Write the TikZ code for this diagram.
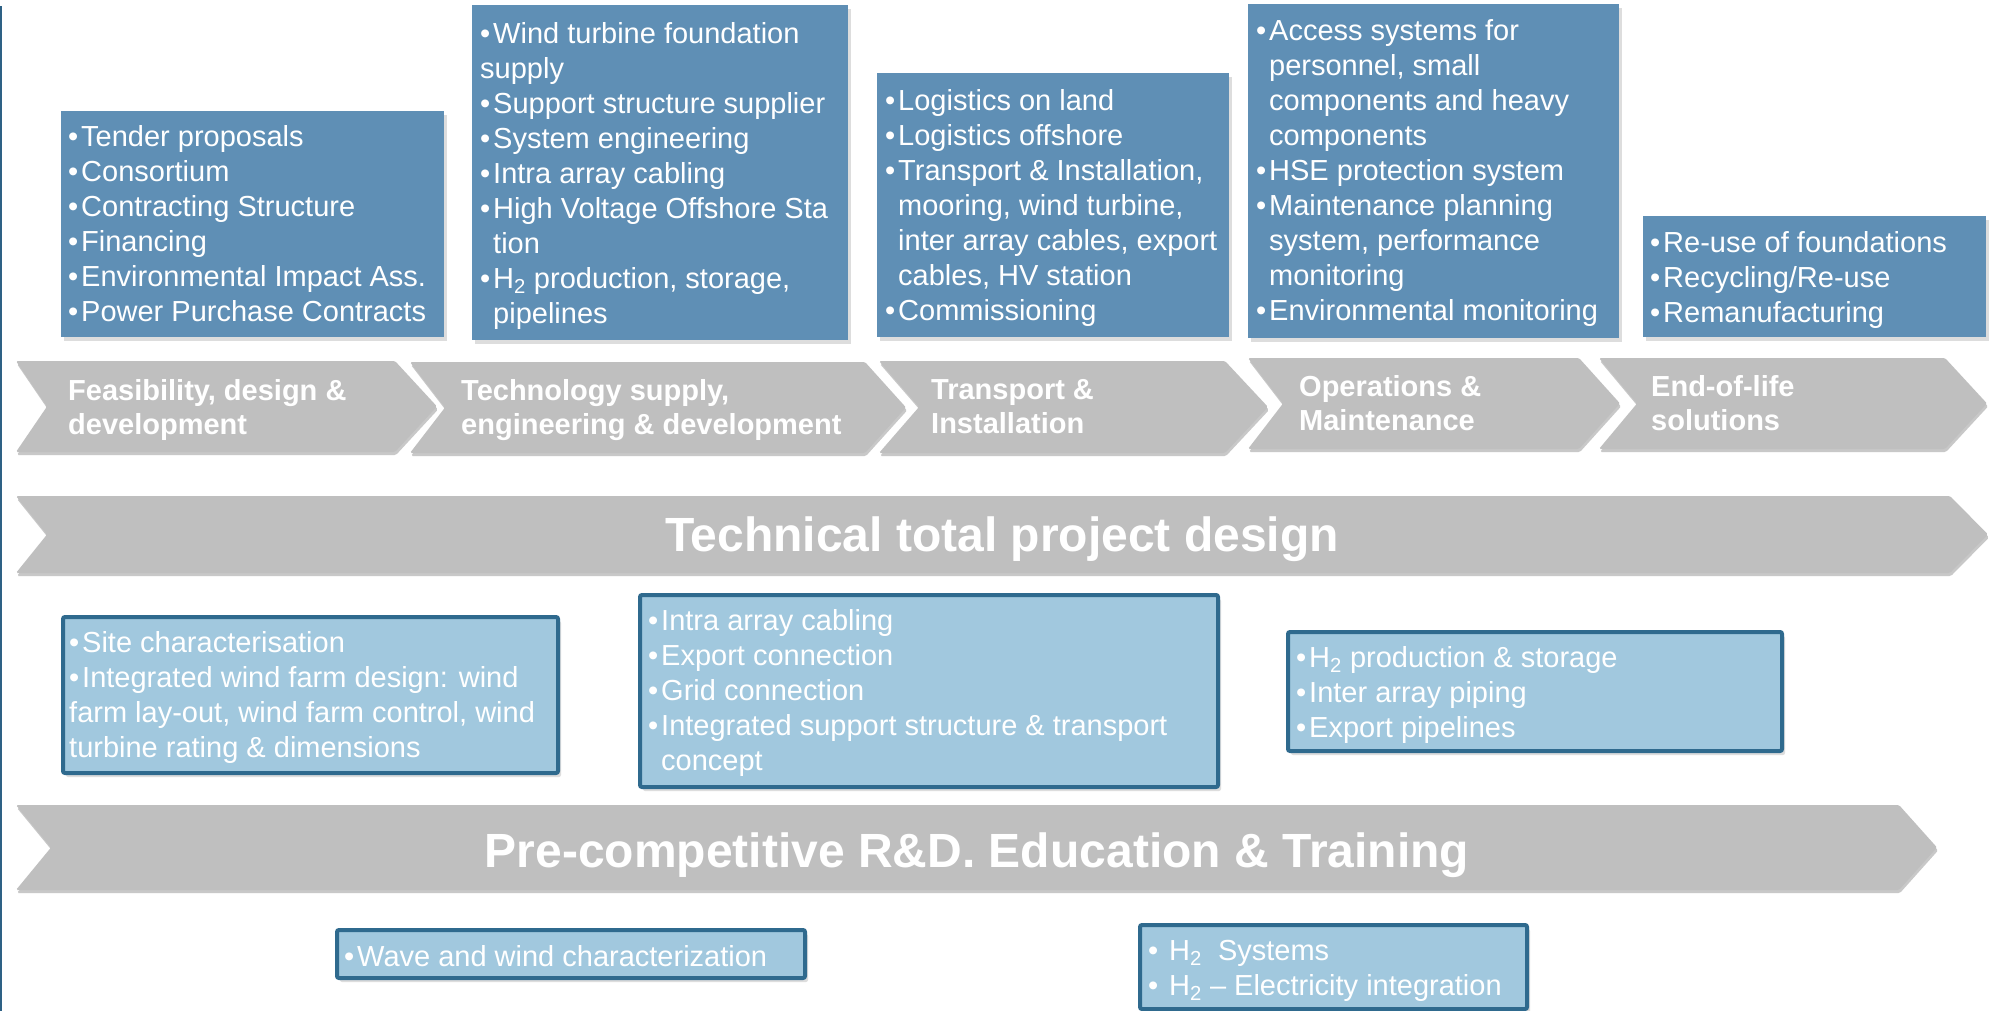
\documentclass[tikz,border=0pt]{standalone}
\usepackage{fontspec}
\setmainfont{Liberation Sans}
\usetikzlibrary{shadows}

\definecolor{topblue}{HTML}{5F8FB5}
\definecolor{lightblue}{HTML}{A1C8DE}
\definecolor{edgeblue}{HTML}{2F6A8E}
\definecolor{arrowgray}{HTML}{BFBFBF}
\definecolor{railblue}{HTML}{2E6185}

% list helpers: bullet line, hanging continuation, flush continuation
\newcommand\bul{\strut\makebox[13pt][l]{•}}
\newcommand\hang{\strut\hspace*{13pt}}
\newcommand\cont{\strut}
\newcommand\Htwo{H\textsubscript{2}}

\tikzset{
  stage/.style={fill=arrowgray, rounded corners=1.5pt,
    drop shadow={shadow xshift=1pt, shadow yshift=-3pt, opacity=0.3, fill=black!70}},
  topbox/.style={fill=topblue,
    drop shadow={shadow xshift=3pt, shadow yshift=-4pt, opacity=0.22, fill=black!60}},
  subbox/.style={fill=lightblue, draw=edgeblue, line width=4pt, rounded corners=2pt,
    drop shadow={shadow xshift=3pt, shadow yshift=-4pt, opacity=0.22, fill=black!60}},
  itemtext/.style={text=white, font=\fontsize{29}{35}\selectfont, align=left,
    inner sep=0pt, anchor=north west},
  stagetext/.style={text=white, font=\bfseries\fontsize{29}{34}\selectfont, align=left,
    inner sep=0pt, anchor=north west},
  bigtext/.style={text=white, font=\bfseries\fontsize{48}{58}\selectfont,
    inner sep=0pt, anchor=base},
}

\begin{document}
\begin{tikzpicture}[x=1pt, y=-1pt]
\useasboundingbox (0,0) rectangle (1998,1011);
\fill[white] (0,0) rectangle (1998,1011);

% left rail
\fill[railblue] (0,6) rectangle (2,1011);

% ---------- value-chain stages ----------
\fill[stage] (16,361) -- (395,361) -- (437,406.5) -- (395,452) -- (16,452) -- (47,406.5) -- cycle;
\fill[stage] (410,362) -- (865,362) -- (906,407.5) -- (865,453) -- (410,453) -- (445,407.5) -- cycle;
\fill[stage] (879,361) -- (1225,361) -- (1268,407) -- (1225,453) -- (879,453) -- (919,407) -- cycle;
\fill[stage] (1248,358) -- (1579,358) -- (1620,403.5) -- (1579,449) -- (1248,449) -- (1283,403.5) -- cycle;
\fill[stage] (1599,358) -- (1945,358) -- (1987,403.5) -- (1945,449) -- (1599,449) -- (1637,403.5) -- cycle;

\node[stagetext] (s1) at (68,376.2) {\strut Feasibility, design \&\\ \strut development};
\node[stagetext] (s2) at (461,376.2) {\strut Technology supply,\\ \strut engineering \& development};
\node[stagetext] (s3) at (931,375.2) {\strut Transport \&\\ \strut Installation};
\node[stagetext] (s4) at (1299,372.2) {\strut Operations \&\\ \strut Maintenance};
\node[stagetext] (s5) at (1651,372.7) {\strut End-of-life\\ \strut solutions};

% ---------- stage activity boxes ----------
\fill[topbox] (61,111) rectangle (444,337);
\fill[topbox] (472,5) rectangle (848,340);
\fill[topbox] (877,73) rectangle (1229,337);
\fill[topbox] (1248,4) rectangle (1619,338);
\fill[topbox] (1643,216) rectangle (1986,337);

\node[itemtext] (t1) at (68,121.5) {\bul Tender proposals\\ \bul Consortium\\ \bul Contracting Structure\\
  \bul Financing\\ \bul Environmental Impact Ass.\\ \bul Power Purchase Contracts};
\node[itemtext] (t2) at (480,18.5) {\bul Wind turbine foundation\\ \cont supply\\ \bul Support structure supplier\\
  \bul System engineering\\ \bul Intra array cabling\\ \bul High Voltage Offshore Sta\\ \hang tion\\
  \bul \Htwo{} production, storage,\\ \hang pipelines};
\node[itemtext] (t3) at (885,85.5) {\bul Logistics on land\\ \bul Logistics offshore\\ \bul Transport \& Installation,\\
  \hang mooring, wind turbine,\\ \hang inter array cables, export\\ \hang cables, HV station\\ \bul Commissioning};
\node[itemtext] (t4) at (1256,15.5) {\bul Access systems for\\ \hang personnel, small\\ \hang components and heavy\\
  \hang components\\ \bul HSE protection system\\ \bul Maintenance planning\\ \hang system, performance\\
  \hang monitoring\\ \bul Environmental monitoring};
\node[itemtext] (t5) at (1650,227.5) {\bul Re-use of foundations\\ \bul Recycling/Re-use\\ \bul Remanufacturing};

% ---------- cross-cutting bands ----------
\fill[stage] (16,496) -- (1950,496) -- (1988,534.5) -- (1950,573) -- (16,573) -- (47,534.5) -- cycle;
\node[bigtext] (tech) at (1002,551) {Technical total project design};

\fill[stage] (16,805) -- (1899,805) -- (1937,847.5) -- (1899,890) -- (16,890) -- (51,847.5) -- cycle;
\node[bigtext] (rd) at (977,867) {Pre-competitive R\&D. Education \& Training};

% ---------- design topics ----------
\draw[subbox] (63,617) rectangle (558,773);
\draw[subbox] (640,595) rectangle (1218,787);
\draw[subbox] (1288,632) rectangle (1782,751);

\node[itemtext] (d1) at (69,627.5) {\bul Site characterisation\\ \bul Integrated wind farm design: wind\\
  \cont farm lay-out, wind farm control, wind\\ \cont turbine rating \& dimensions};
\node[itemtext] (d2) at (648,605.5) {\bul Intra array cabling\\ \bul Export connection\\ \bul Grid connection\\
  \bul Integrated support structure \& transport\\ \hang concept};
\node[itemtext] (d3) at (1296,642.5) {\bul \Htwo{} production \& storage\\ \bul Inter array piping\\ \bul Export pipelines};

% ---------- research topics ----------
\draw[subbox] (337,930) rectangle (805,978);
\draw[subbox] (1140,925) rectangle (1527,1009);

\node[itemtext] (r1) at (344,941.5) {\bul Wave and wind characterization};
\node[itemtext] (r2) at (1148,935.5) {\strut\makebox[21pt][l]{•}\Htwo\ \ Systems\\
  \strut\makebox[21pt][l]{•}\Htwo{} – Electricity integration};
\end{tikzpicture}
\end{document}
